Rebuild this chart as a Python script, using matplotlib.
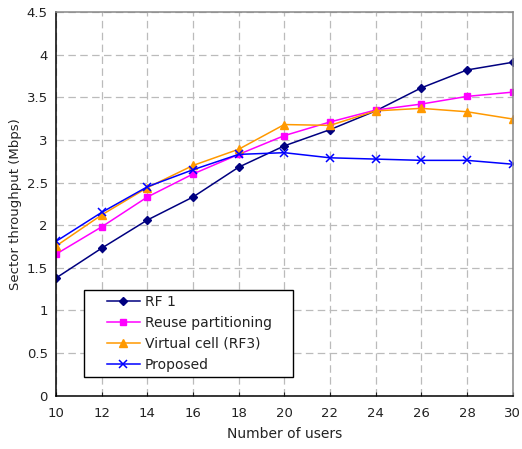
import matplotlib
matplotlib.use("Agg")
import matplotlib.pyplot as plt
from matplotlib.patches import Rectangle

users = [10, 12, 14, 16, 18, 20, 22, 24, 26, 28, 30]
rf1 = [1.38, 1.73, 2.06, 2.33, 2.68, 2.93, 3.12, 3.34, 3.61, 3.82, 3.91]
reuse = [1.66, 1.98, 2.33, 2.60, 2.83, 3.05, 3.21, 3.35, 3.42, 3.51, 3.56]
virtual = [1.755, 2.12, 2.44, 2.70, 2.89, 3.18, 3.17, 3.34, 3.37, 3.33, 3.245]
proposed = [1.81, 2.15, 2.45, 2.65, 2.83, 2.85, 2.79, 2.775, 2.76, 2.76, 2.715]
yticks = [0, 0.5, 1, 1.5, 2, 2.5, 3, 3.5, 4, 4.5]
ytick_labels = ["0", "0.5", "1", "1.5", "2", "2.5", "3", "3.5", "4", "4.5"]

plt.rcParams['font.family'] = ['DejaVu Sans']
fig = plt.figure(figsize=(5.22, 4.49), dpi=100)
ax = fig.add_axes([0.1073, 0.1187, 0.8747, 0.8546])

ax.plot(users, rf1, color='#000080', marker='D', markersize=4.5, lw=1.1, label='RF 1')
ax.plot(users, reuse, color='#FF00FF', marker='s', markersize=5, lw=1.1, label='Reuse partitioning')
ax.plot(users, virtual, color='#FF9900', marker='^', markersize=6, lw=1.1, label='Virtual cell (RF3)')
ax.plot(users, proposed, color='#0000FF', marker='x', markersize=6, mew=1.1, lw=1.1, label='Proposed')

ax.set_xlim(10, 30)
ax.set_ylim(0, 4.5)
ax.set_xticks(users)
ax.set_yticks(yticks)
ax.set_yticklabels(ytick_labels)
ax.grid(True, color='#BBBBBB', linestyle=(0, (6, 3.5)), lw=0.9)
ax.tick_params(axis='both', labelsize=9.5, colors='#222222', direction='in', length=3)
ax.tick_params(axis='y', length=0, pad=6)
ax.tick_params(axis='x', pad=8)
for s in ['left', 'bottom']:
    ax.spines[s].set_color('black')
    ax.spines[s].set_linewidth(1.1)
for s in ['top', 'right']:
    ax.spines[s].set_color('#888888')
    ax.spines[s].set_linewidth(1.1)

ax.set_xlabel('Number of users', fontsize=10, color='#222222', labelpad=5)
ax.set_ylabel('Sector throughput (Mbps)', fontsize=9.5, color='#222222', labelpad=3)

# legend frame drawn separately (wider padding as in the reference)
frame = Rectangle((0.0613, 0.0487), 0.457, 0.227, transform=ax.transAxes,
                  facecolor='white', edgecolor='black', lw=1.0, zorder=4)
ax.add_patch(frame)

leg = ax.legend(loc='lower left', bbox_to_anchor=(0.111, 0.062), fontsize=10,
                frameon=False, handlelength=2.37,
                handletextpad=0.36, labelspacing=0.51, borderpad=0, borderaxespad=0)
leg.set_zorder(5)
for t in leg.get_texts():
    t.set_color('#222222')

fig.savefig('out.png', dpi=100)
